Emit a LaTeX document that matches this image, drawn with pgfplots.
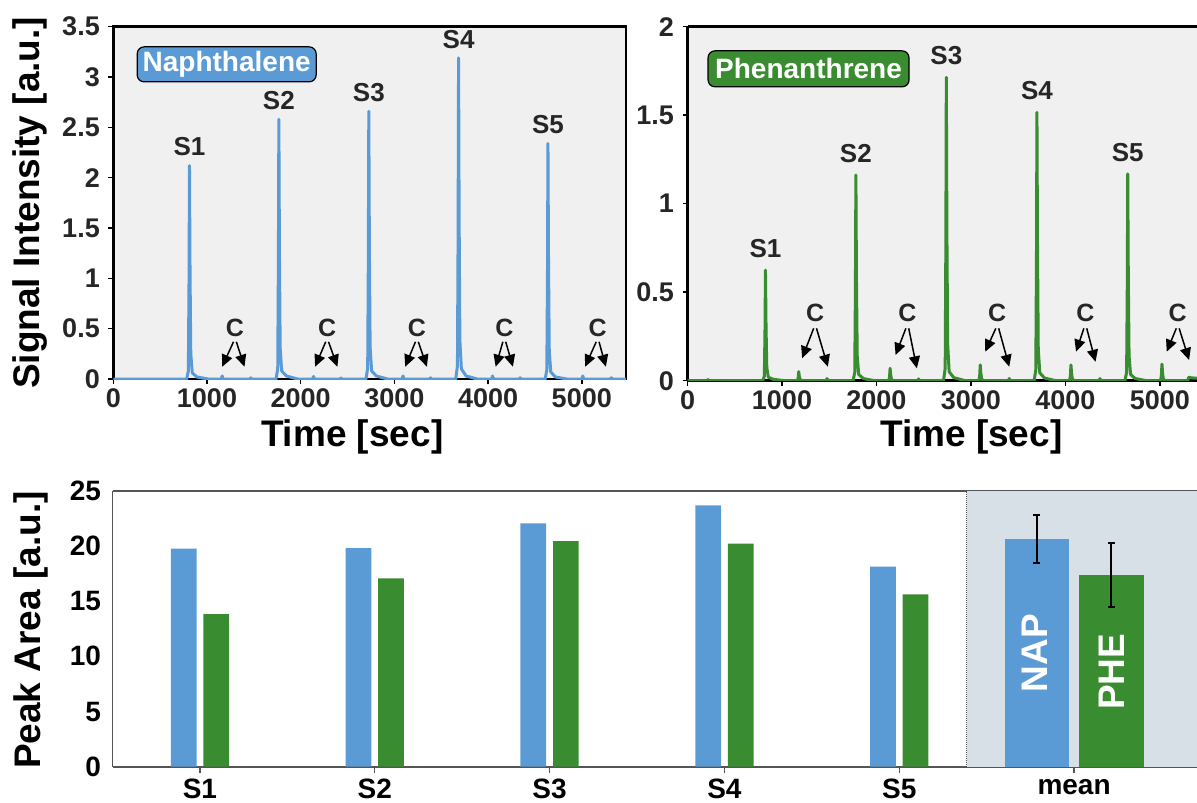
\documentclass[border=0pt]{standalone}
\usepackage{fontspec}
\setmainfont{Liberation Sans}
\usepackage{pgfplots}
\pgfplotsset{compat=1.18}
\usetikzlibrary{arrows.meta}
\definecolor{napblue}{HTML}{5B9BD5}
\definecolor{phegreen}{HTML}{3A8C30}
\definecolor{plotbg}{HTML}{F0F0F0}
\definecolor{meanbg}{HTML}{D7DFE7}
\definecolor{axgray}{HTML}{555555}
\newcommand{\fs}[1]{\fontsize{#1bp}{#1bp}\selectfont\bfseries}
\tikzset{carrow/.style={line width=1.5bp, -{Triangle[width=11bp,length=12bp]}}}
\begin{document}
\begin{tikzpicture}
\useasboundingbox (0,0) rectangle (1197bp,-803bp);
% ---------------- Naphthalene ----------------
\begin{axis}[
  at={(113.3bp,-379bp)}, anchor=south west,
  scale only axis, width=512.7bp, height=352.3bp,
  xmin=0, xmax=5472, ymin=0, ymax=3.5,
  axis background/.style={fill=plotbg},
  axis line style={line width=2.6bp, black},
  xtick={0,1000,2000,3000,4000,5000},
  xticklabels={0,1000,2000,3000,4000,5000},
  ytick={0,0.5,1,1.5,2,2.5,3,3.5},
  yticklabels={0,0.5,1,1.5,2,2.5,3,3.5},
  tick align=outside, tick pos=left, major tick length=5bp,
  tick style={line width=1.5bp, black},
  tick label style={font=\fs{27}, text=black!85},
  xticklabel style={yshift=-1bp},
  yticklabel style={xshift=-5bp},
  xlabel={Time [sec]}, ylabel={Signal Intensity [a.u.]},
  every axis x label/.style={at={(axis description cs:0.466,-0.165)}, anchor=center, font=\fs{37}},
  every axis y label/.style={at={(axis description cs:-0.1625,0.5)}, rotate=90, anchor=center, font=\fs{37}},
]
\addplot[napblue, line width=3bp, line join=round] coordinates {
(0,0)(783,0)(801,0.08)(808,0.95)(813,2.12)(819,1.06)(827,0.25)(843,0.06)(893,0.02)(1013,0)
(1152,0)(1162,0.03)(1172,0)(1457,0)(1467,0.012)(1477,0)
(1737,0)(1755,0.10)(1762,1.16)(1767,2.58)(1773,1.29)(1781,0.31)(1797,0.08)(1847,0.03)(1967,0)
(2127,0)(2137,0.025)(2147,0)(2420,0)(2430,0.01)(2440,0)
(2697,0)(2715,0.11)(2722,1.20)(2727,2.66)(2733,1.33)(2741,0.32)(2757,0.08)(2807,0.03)(2927,0)
(3082,0)(3092,0.03)(3102,0)(3376,0)(3386,0.012)(3396,0)
(3655,0)(3673,0.13)(3680,1.44)(3685,3.19)(3691,1.60)(3699,0.38)(3715,0.10)(3765,0.03)(3885,0)
(4038,0)(4048,0.03)(4058,0)(4332,0)(4342,0.012)(4352,0)
(4609,0)(4627,0.09)(4634,1.05)(4639,2.34)(4645,1.17)(4653,0.28)(4669,0.07)(4719,0.02)(4839,0)
(5001,0)(5011,0.03)(5021,0)(5306,0)(5316,0.012)(5326,0)(5472,0)
};
\node[font=\fs{26}, text=black!85, anchor=south, yshift=6bp] at (axis cs:813,2.12) {S1};
\node[font=\fs{26}, text=black!85, anchor=south, yshift=6bp] at (axis cs:1767,2.58) {S2};
\node[font=\fs{26}, text=black!85, anchor=south, yshift=6bp] at (axis cs:2727,2.66) {S3};
\node[font=\fs{26}, text=black!85, anchor=south, yshift=6bp] at (axis cs:3685,3.19) {S4};
\node[font=\fs{26}, text=black!85, anchor=south, yshift=6bp] at (axis cs:4639,2.34) {S5};
\node[draw=black, line width=1.2bp, rounded corners=7bp, fill=napblue, text=white, font=\fs{28},
  minimum width=179bp, minimum height=35bp, inner sep=0pt] at (axis cs:1210,3.126) {Naphthalene};
% C annotations
\node[font=\fs{25}, text=black!85] at (axis cs:1298,0.503) {C};
\draw[carrow] (axis cs:1283,0.37) -- (axis cs:1162,0.122);
\draw[carrow] (axis cs:1313,0.37) -- (axis cs:1400,0.122);
\node[font=\fs{25}, text=black!85] at (axis cs:2282,0.503) {C};
\draw[carrow] (axis cs:2267,0.37) -- (axis cs:2154,0.122);
\draw[carrow] (axis cs:2297,0.37) -- (axis cs:2392,0.122);
\node[font=\fs{25}, text=black!85] at (axis cs:3240,0.503) {C};
\draw[carrow] (axis cs:3225,0.37) -- (axis cs:3115,0.122);
\draw[carrow] (axis cs:3255,0.37) -- (axis cs:3347,0.122);
\node[font=\fs{25}, text=black!85] at (axis cs:4173,0.503) {C};
\draw[carrow] (axis cs:4158,0.37) -- (axis cs:4081,0.122);
\draw[carrow] (axis cs:4188,0.37) -- (axis cs:4265,0.122);
\node[font=\fs{25}, text=black!85] at (axis cs:5169,0.503) {C};
\draw[carrow] (axis cs:5154,0.37) -- (axis cs:5036,0.122);
\draw[carrow] (axis cs:5184,0.37) -- (axis cs:5257,0.122);
\end{axis}
% ---------------- Phenanthrene ----------------
\begin{axis}[
  at={(687.5bp,-380.7bp)}, anchor=south west,
  scale only axis, width=509.5bp, height=354bp,
  xmin=0, xmax=5392, ymin=0, ymax=2,
  axis background/.style={fill=plotbg},
  axis x line*=box, axis y line*=left,
  axis line style={line width=2.6bp, black},
  xtick={0,1000,2000,3000,4000,5000},
  xticklabels={0,1000,2000,3000,4000,5000},
  ytick={0,0.5,1,1.5,2},
  yticklabels={0,0.5,1,1.5,2},
  tick align=outside, major tick length=5bp,
  xtick pos=bottom, ytick pos=left,
  tick style={line width=1.5bp, black},
  tick label style={font=\fs{27}, text=black!85},
  xticklabel style={yshift=-1bp},
  yticklabel style={xshift=-5bp},
  xlabel={Time [sec]},
  every axis x label/.style={at={(axis description cs:0.557,-0.159)}, anchor=center, font=\fs{37}},
]
\addplot[phegreen, line width=3bp, line join=round] coordinates {
(0,0)(207,0)(217,0.006)(227,0)
(795,0)(813,0.025)(820,0.28)(825,0.625)(831,0.31)(839,0.075)(855,0.02)(905,0.008)(1025,0)
(1162,0)(1171,0.015)(1177,0.051)(1183,0.025)(1192,0.006)(1212,0)
(1467,0)(1477,0.012)(1487,0)
(1752,0)(1770,0.046)(1777,0.52)(1782,1.162)(1788,0.58)(1796,0.14)(1812,0.035)(1862,0.012)(1982,0)
(2129,0)(2138,0.021)(2144,0.07)(2150,0.035)(2159,0.007)(2179,0)
(2436,0)(2446,0.01)(2456,0)
(2709,0)(2727,0.069)(2734,0.77)(2739,1.714)(2745,0.86)(2753,0.21)(2769,0.05)(2819,0.017)(2939,0)
(3083,0)(3092,0.027)(3098,0.089)(3104,0.045)(3113,0.009)(3133,0)
(3395,0)(3405,0.012)(3415,0)
(3668,0)(3686,0.061)(3693,0.68)(3698,1.516)(3704,0.76)(3712,0.18)(3728,0.045)(3778,0.015)(3898,0)
(4043,0)(4052,0.027)(4058,0.089)(4064,0.045)(4073,0.009)(4093,0)
(4355,0)(4365,0.012)(4375,0)
(4629,0)(4647,0.047)(4654,0.53)(4659,1.168)(4665,0.58)(4673,0.14)(4689,0.035)(4739,0.012)(4859,0)
(5006,0)(5015,0.028)(5021,0.094)(5027,0.047)(5036,0.009)(5056,0)
(5292,0)(5302,0.015)(5307,0.02)(5330,0.016)(5392,0.014)
};
\node[font=\fs{26}, text=black!85, anchor=south, yshift=9bp] at (axis cs:825,0.625) {S1};
\node[font=\fs{26}, text=black!85, anchor=south, yshift=9bp] at (axis cs:1782,1.162) {S2};
\node[font=\fs{26}, text=black!85, anchor=south, yshift=9bp] at (axis cs:2739,1.714) {S3};
\node[font=\fs{26}, text=black!85, anchor=south, yshift=9bp] at (axis cs:3698,1.516) {S4};
\node[font=\fs{26}, text=black!85, anchor=south, yshift=9bp] at (axis cs:4659,1.168) {S5};
\node[draw=black, line width=1.2bp, rounded corners=7bp, fill=phegreen, text=white, font=\fs{28},
  minimum width=201bp, minimum height=36bp, inner sep=0pt] at (axis cs:1281,1.762) {Phenanthrene};
\node[font=\fs{25}, text=black!85] at (axis cs:1350,0.381) {C};
\draw[carrow] (axis cs:1335,0.296) -- (axis cs:1213,0.127);
\draw[carrow] (axis cs:1365,0.296) -- (axis cs:1485,0.079);
\node[font=\fs{25}, text=black!85] at (axis cs:2326,0.381) {C};
\draw[carrow] (axis cs:2311,0.296) -- (axis cs:2202,0.145);
\draw[carrow] (axis cs:2341,0.296) -- (axis cs:2427,0.070);
\node[font=\fs{25}, text=black!85] at (axis cs:3278,0.381) {C};
\draw[carrow] (axis cs:3263,0.296) -- (axis cs:3151,0.164);
\draw[carrow] (axis cs:3293,0.296) -- (axis cs:3405,0.079);
\node[font=\fs{25}, text=black!85] at (axis cs:4210,0.381) {C};
\draw[carrow] (axis cs:4195,0.296) -- (axis cs:4112,0.164);
\draw[carrow] (axis cs:4225,0.296) -- (axis cs:4318,0.107);
\node[font=\fs{25}, text=black!85] at (axis cs:5188,0.381) {C};
\draw[carrow] (axis cs:5173,0.296) -- (axis cs:5072,0.164);
\draw[carrow] (axis cs:5203,0.296) -- (axis cs:5308,0.117);
\end{axis}
% ---------------- Peak areas ----------------
\begin{axis}[
  at={(112.5bp,-766.7bp)}, anchor=south west,
  scale only axis, width=1084.5bp, height=276bp,
  xmin=-0.5, xmax=5.703, ymin=0, ymax=25,
  axis x line*=box, axis y line*=left,
  axis line style={line width=1.6bp, axgray},
  xtick={0,1,2,3,4,5},
  xticklabels={S1,S2,S3,S4,S5,mean},
  ytick={0,5,10,15,20,25},
  yticklabels={0,5,10,15,20,25},
  xtick pos=bottom, tick align=outside, major tick length=6bp,
  xtick style={line width=1.4bp, axgray},
  ytick style={draw=none},
  tick label style={font=\fs{28}, text=black},
  xticklabel style={yshift=-3bp},
  yticklabel style={xshift=-2bp},
  ylabel={Peak Area [a.u.]},
  every axis y label/.style={at={(axis description cs:-0.0752,0.495)}, rotate=90, anchor=center, font=\fs{37}},
]
\fill[meanbg] (axis cs:4.387,0) rectangle (axis cs:6,25);
\draw[densely dotted, line width=1bp, black!70] (axis cs:4.387,0) -- (axis cs:4.387,25);
\addplot[ybar, bar width=0.147, bar shift=-0.093, fill=napblue, draw=none] coordinates {
(0,19.75)(1,19.81)(2,22.05)(3,23.68)(4,18.12)};
\addplot[ybar, bar width=0.147, bar shift=0.093, fill=phegreen, draw=none] coordinates {
(0,13.83)(1,17.06)(2,20.44)(3,20.20)(4,15.61)};
\addplot[ybar, bar width=0.37, bar shift=-0.213, fill=napblue, draw=none] coordinates {(5,20.62)};
\addplot[ybar, bar width=0.37, bar shift=0.213, fill=phegreen, draw=none] coordinates {(5,17.39)};
\addplot[draw=none, no markers,
  error bars/.cd, y dir=both, y explicit,
  error bar style={line width=2bp, black},
  error mark options={rotate=90, black, mark size=3.5bp, line width=2bp}]
  coordinates {(4.787,20.62) +- (0,2.2)};
\addplot[draw=none, no markers,
  error bars/.cd, y dir=both, y explicit,
  error bar style={line width=2bp, black},
  error mark options={rotate=90, black, mark size=3.5bp, line width=2bp}]
  coordinates {(5.213,17.39) +- (0,2.9)};
\node[rotate=90, font=\fs{37}, text=white] at (axis cs:4.775,10.27) {NAP};
\node[rotate=90, font=\fs{37}, text=white] at (axis cs:5.213,8.6) {PHE};
\end{axis}
\end{tikzpicture}
\end{document}
